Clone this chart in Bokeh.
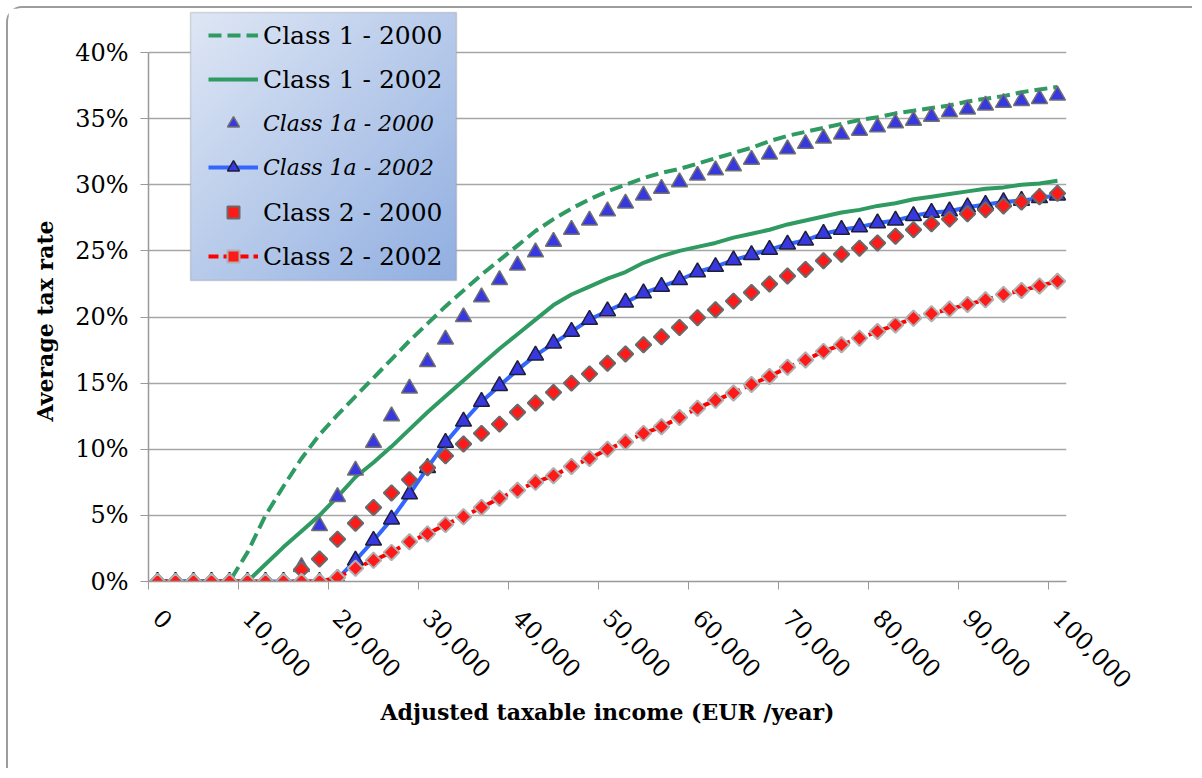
import numpy as np
from bokeh.plotting import figure
from bokeh.models import (Range1d, FixedTicker, NumeralTickFormatter, PrintfTickFormatter,
                          Legend, LegendItem, BoxAnnotation, Title)
from bokeh.embed import file_html
from bokeh.resources import INLINE

# ---------------- data (average tax rate, %) ----------------
income = list(range(0, 100001, 2000))          # 51 categories, EUR/year
x_tick_labels = list(range(0, 100001, 10000))
y_ticks = [0, 5, 10, 15, 20, 25, 30, 35, 40]

c1_2000 = [0, 0, 0, 0, 0, 2.2, 5.0, 7.2, 9.3, 11.1,
           12.6, 14.0, 15.4, 16.8, 18.2, 19.5, 20.8, 22.0, 23.2, 24.3,
           25.4, 26.5, 27.4, 28.2, 28.9, 29.5, 30.0, 30.5, 30.9, 31.2,
           31.6, 32.0, 32.4, 32.8, 33.3, 33.7, 34.0, 34.3, 34.6, 34.9,
           35.1, 35.4, 35.6, 35.8, 36.0, 36.3, 36.5, 36.7, 37.0, 37.2, 37.4]
c1_2002 = [0, 0, 0, 0, 0, 0, 1.3, 2.6, 3.8, 5.0,
           6.4, 7.9, 9.0, 10.2, 11.5, 12.8, 14.0, 15.2, 16.4, 17.6,
           18.7, 19.8, 20.9, 21.7, 22.3, 22.9, 23.4, 24.1, 24.6, 25.0,
           25.3, 25.6, 26.0, 26.3, 26.6, 27.0, 27.3, 27.6, 27.9, 28.1,
           28.4, 28.6, 28.9, 29.1, 29.3, 29.5, 29.7, 29.8, 30.0, 30.1, 30.3]
c1a_2000 = [0, 0, 0, 0, 0, 0, 0, 0, 1.1, 4.2,
            6.4, 8.4, 10.5, 12.5, 14.6, 16.6, 18.3, 20.0, 21.5, 22.8,
            23.9, 24.9, 25.7, 26.6, 27.3, 28.0, 28.6, 29.2, 29.7, 30.2,
            30.7, 31.1, 31.4, 31.9, 32.3, 32.7, 33.1, 33.5, 33.8, 34.1,
            34.35, 34.65, 34.85, 35.15, 35.5, 35.7, 36.0, 36.2, 36.35, 36.5, 36.75]
c1a_2002 = [0, 0, 0, 0, 0, 0, 0, 0, 0, 0,
            0.2, 1.6, 3.1, 4.7, 6.6, 8.6, 10.5, 12.1, 13.6, 14.8,
            16.0, 17.1, 18.0, 18.9, 19.8, 20.45, 21.1, 21.8, 22.3, 22.8,
            23.4, 23.8, 24.3, 24.7, 25.1, 25.5, 25.8, 26.3, 26.6, 26.8,
            27.1, 27.3, 27.65, 27.9, 28.0, 28.3, 28.5, 28.7, 28.8, 29.0, 29.2]
c2_2000 = [0, 0, 0, 0, 0, 0, 0, 0, 0.9, 1.7,
           3.2, 4.4, 5.6, 6.7, 7.7, 8.6, 9.5, 10.4, 11.2, 11.9,
           12.8, 13.5, 14.3, 15.0, 15.7, 16.5, 17.2, 17.9, 18.5, 19.2,
           19.95, 20.55, 21.2, 21.85, 22.5, 23.1, 23.6, 24.25, 24.75, 25.2,
           25.6, 26.1, 26.6, 27.05, 27.4, 27.8, 28.1, 28.4, 28.7, 29.1, 29.35]
c2_2002 = [0, 0, 0, 0, 0, 0, 0, 0, 0, 0,
           0.3, 1.0, 1.6, 2.2, 3.0, 3.6, 4.3, 4.9, 5.6, 6.3,
           6.9, 7.5, 8.0, 8.7, 9.3, 10.0, 10.55, 11.2, 11.7, 12.4,
           13.1, 13.7, 14.25, 14.9, 15.5, 16.2, 16.75, 17.4, 17.9, 18.4,
           18.9, 19.4, 19.9, 20.25, 20.6, 20.95, 21.3, 21.7, 22.0, 22.35, 22.7]

labels = ["Class 1 - 2000", "Class 1 - 2002", "Class 1a - 2000",
          "Class 1a - 2002", "Class 2 - 2000", "Class 2 - 2002"]
x_title = "Adjusted taxable income (EUR /year)"
y_title = "Average tax rate"

# ---------------- layout constants (canvas px) ----------------
W, H = 1186, 762
FL, FR, FT, FB = 140, 1058, 2, 573
X0, X1 = -1000, 101000
Y40_PX = 44                       # canvas y of the 40% line
PX_PER_PCT = (FB - Y40_PX) / 40.0
Y1 = 40 + (Y40_PX - FT) / PX_PER_PCT

FONT = "DejaVu Serif"
GREEN = "#2f9a62"
BLUE_LINE = "#3366ff"
BLUE_MARK = "#3838e0"
RED = "#ff0000"

def sx_to_x(sx):
    return X0 + (sx - FL) * (X1 - X0) / (FR - FL)
def sy_to_y(sy):
    return (FB - sy) / PX_PER_PCT

p = figure(width=W, height=H, x_range=Range1d(X0, X1), y_range=Range1d(0, Y1),
           output_backend="svg", toolbar_location=None,
           min_border_left=FL, min_border_right=W - FR,
           min_border_top=FT, min_border_bottom=H - FB)
p.outline_line_color = None
p.background_fill_color = "white"
p.border_fill_color = "white"
p.styles = {"border-top": "2px solid #9c9c9c", "border-left": "2px solid #9c9c9c",
            "border-top-left-radius": "16px",
            "margin-left": "6px", "margin-top": "6px"}

# x axis
xa = p.xaxis[0]
xa.ticker = FixedTicker(ticks=x_tick_labels,
                        minor_ticks=list(range(-1000, 100000, 10000)))
xa.formatter = NumeralTickFormatter(format="0,0")
xa.major_label_orientation = -np.pi / 4
xa.major_tick_out = 0
xa.major_tick_in = 0
xa.minor_tick_out = 8
xa.minor_tick_in = 0
xa.minor_tick_line_color = "#999999"
xa.axis_line_color = "#999999"
xa.axis_line_width = 1.5
xa.major_label_text_font = FONT
xa.major_label_text_font_size = "24px"
xa.major_label_text_color = "black"
xa.major_label_standoff = 24
xa.axis_label = x_title
xa.axis_label_text_font = FONT
xa.axis_label_text_font_style = "bold"
xa.axis_label_text_font_size = "22px"
xa.axis_label_text_color = "black"
xa.axis_label_standoff = 0

# y axis
ya = p.yaxis[0]
ya.ticker = FixedTicker(ticks=y_ticks)
ya.formatter = PrintfTickFormatter(format="%d%%")
ya.bounds = (0, 40)
ya.major_tick_out = 8
ya.major_tick_in = 0
ya.minor_tick_out = 0
ya.minor_tick_in = 0
ya.major_tick_line_color = "#999999"
ya.axis_line_color = "#999999"
ya.axis_line_width = 1.5
ya.major_label_text_font = FONT
ya.major_label_text_font_size = "24px"
ya.major_label_text_color = "black"
ya.major_label_standoff = 12

# y axis title as a side title, so it can be centred on the 0-40 % span
p.add_layout(Title(text=y_title, align="left", offset=160, standoff=30,
                   text_font=FONT, text_font_style="bold", text_font_size="22px",
                   text_color="black"), "left")

p.xgrid.visible = False
p.ygrid.ticker = FixedTicker(ticks=y_ticks)
p.ygrid.grid_line_color = "#a6a6a6"
p.ygrid.grid_line_width = 1.5

# ---------------- series ----------------
r1 = p.line(income, c1_2000, line_color=GREEN, line_width=4, line_dash="13 6")
r2 = p.line(income, c1_2002, line_color=GREEN, line_width=4)
r3 = p.scatter(income, c1a_2000, marker="triangle", size=16, fill_color=BLUE_MARK,
               line_color="#707070", line_width=1.5)
r4l = p.line(income, c1a_2002, line_color=BLUE_LINE, line_width=4)
r4m = p.scatter(income, c1a_2002, marker="triangle", size=16, fill_color=BLUE_MARK,
                line_color="#1e1e36", line_width=1.5)
r5 = p.scatter(income, c2_2000, marker="square", angle=np.pi / 4, size=11,
               fill_color="#ff1a1a", line_color="#6a6a6a", line_width=2)
r6l = p.line(income, c2_2002, line_color=RED, line_width=4, line_dash="10 5")
r6m = p.scatter(income, c2_2002, marker="square", angle=np.pi / 4, size=11,
                fill_color="#ff1a1a", line_color="#b0b0b0", line_width=2)

# ---------------- legend box (gradient + border) ----------------
LB_L, LB_R, LB_T, LB_B = 182, 448, 4, 272          # canvas px

nx, ny = LB_R - LB_L, LB_B - LB_T
img = np.empty((ny, nx), dtype=np.uint32)
view = img.view(dtype=np.uint8).reshape((ny, nx, 4))
u = np.linspace(0, 1, nx)[None, :]
v = np.linspace(0, 1, ny)[:, None]
t = (u + (1 - v)) / 2.0
light = (223, 231, 245)
dark = (145, 175, 225)
for k in range(3):
    view[:, :, k] = (light[k] + (dark[k] - light[k]) * t).astype(np.uint8)
view[:, :, 3] = 255
xl, xr = sx_to_x(LB_L), sx_to_x(LB_R)
yb, yt = sy_to_y(LB_B), sy_to_y(LB_T)
p.image_rgba(image=[img], x=xl, y=yb, dw=xr - xl, dh=yt - yb)
p.add_layout(BoxAnnotation(left=xl, right=xr, bottom=yb, top=yt, fill_alpha=0,
                           line_color="#8c8c8c", line_width=1.5))

item_groups = [
    ([LegendItem(label=labels[0], renderers=[r1]),
      LegendItem(label=labels[1], renderers=[r2])], "normal", "25px", 27),
    ([LegendItem(label=labels[2], renderers=[r3]),
      LegendItem(label=labels[3], renderers=[r4l, r4m])], "italic", "22px", 115),
    ([LegendItem(label=labels[4], renderers=[r5]),
      LegendItem(label=labels[5], renderers=[r6l, r6m])], "normal", "25px", 204),
]
for items, style, fsize, first_center in item_groups:
    top = first_center - 15
    bottom = top + 30 * 2 + 14
    leg = Legend(items=items, location=(200 - FL, FB - bottom),
                 orientation="vertical", padding=0, margin=0, spacing=14,
                 label_height=30, glyph_height=30, glyph_width=50,
                 label_standoff=5, label_width=180,
                 label_text_font=FONT, label_text_font_size=fsize,
                 label_text_font_style=style, label_text_color="black",
                 background_fill_alpha=0, border_line_color=None)
    p.add_layout(leg, "center")

open("out.html", "w").write(file_html(p, INLINE))
